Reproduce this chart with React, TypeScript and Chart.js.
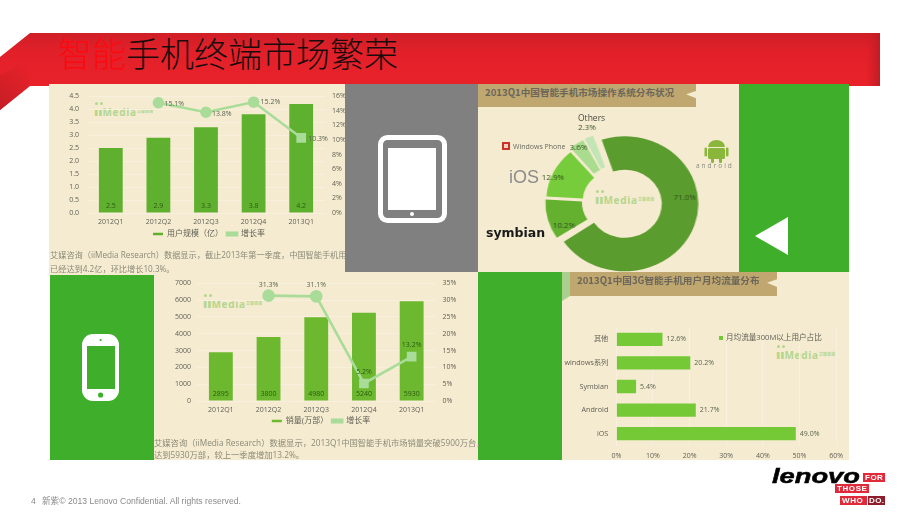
import React, { useEffect, useRef } from "react";
import { Chart, registerables } from "chart.js";

Chart.register(...registerables);

const quarters = ["2012Q1", "2012Q2", "2012Q3", "2012Q4", "2013Q1"];
const userScale = [2.5, 2.9, 3.3, 3.8, 4.2];
const userGrowth = [null, 15.1, 13.8, 15.2, 10.3];
const salesVolume = [2895, 3800, 4980, 5240, 5930];
const salesGrowth = [null, 31.3, 31.1, 5.2, 13.2];
const osNames = ["Android", "Symbian", "iOS", "Windows Phone", "Others"];
const osShare = [71.0, 10.2, 12.9, 3.6, 2.3];
const trafficCategories = ["其他", "windows系列", "Symbian", "Android", "iOS"];
const trafficShare = [12.6, 20.2, 5.4, 21.7, 49.0];

const FONT = '"Open Sans","Noto Sans CJK SC",sans-serif';
const TICK = "#5f5f55";
const PANEL = "#f5ebd0";
const GREEN = "#3fae2a";
const LINE = "#a9dc98";
const GRID = "#f8f0dc";
const DONUT_STRETCH = 1.09;

const fixW = (w: number) => (s: any) => {
  s.width = w;
};
const fixH = (h: number) => (s: any) => {
  s.height = h;
};

const comboLabels = (barFmt: (v: number) => string, barColor: string, lineOffsets: number[][], lineColors: string[], barGap: number) => ({
  id: "comboLabels",
  afterDatasetsDraw(chart: any) {
    const { ctx } = chart;
    ctx.save();
    ctx.font = `7px ${FONT}`;
    ctx.textBaseline = "middle";
    ctx.textAlign = "center";
    ctx.fillStyle = barColor;
    chart.getDatasetMeta(0).data.forEach((el: any, i: number) => {
      ctx.fillText(barFmt(chart.data.datasets[0].data[i]), el.x, chart.scales.y.bottom - barGap);
    });
    chart.getDatasetMeta(1).data.forEach((el: any, i: number) => {
      const v = chart.data.datasets[1].data[i];
      if (v == null) return;
      const [dx, dy, anchor] = lineOffsets[i];
      ctx.textAlign = anchor ? "left" : "center";
      ctx.fillStyle = lineColors[i];
      ctx.fillText(v.toFixed(1) + "%", el.x + dx, el.y + dy);
    });
    ctx.restore();
  },
});

function comboConfig(o: any) {
  return {
    type: "bar",
    data: {
      labels: quarters,
      datasets: [
        { type: "bar", label: o.barLabel, data: o.bars, yAxisID: "y", backgroundColor: o.barColor, barPercentage: 0.5, categoryPercentage: 1, order: 2 },
        {
          type: "line",
          label: "增长率",
          data: o.line,
          yAxisID: "y1",
          borderColor: LINE,
          backgroundColor: LINE,
          borderWidth: 2.6,
          tension: 0,
          spanGaps: false,
          pointStyle: ["circle", "circle", "circle", o.lastCircle ? "circle" : "rect", "rect"],
          pointRadius: o.pointRadius,
          pointBackgroundColor: LINE,
          pointBorderColor: LINE,
          order: 1,
        },
      ],
    },
    options: {
      animation: false,
      responsive: false,
      layout: { padding: o.padding },
      plugins: {
        tooltip: { enabled: false },
        legend: {
          position: "bottom",
          labels: {
            font: { size: 8, family: FONT },
            color: TICK,
            boxWidth: 10,
            boxHeight: 2.5,
            padding: 4,
            sort: (a: any, b: any) => a.datasetIndex - b.datasetIndex,
          },
        },
      },
      scales: {
        x: {
          grid: { display: false, drawTicks: false },
          border: { display: false },
          ticks: { font: { size: 7, family: FONT }, color: TICK, padding: 5, maxRotation: 0 },
          afterFit: fixH(o.xHeight),
        },
        y: {
          min: 0,
          max: o.yMax,
          position: "left",
          grid: { color: GRID, lineWidth: 1, drawTicks: false },
          border: { display: false },
          ticks: { stepSize: o.yStep, font: { size: 7, family: FONT }, color: TICK, padding: o.leftPad, callback: o.yFmt },
          afterFit: fixW(o.leftW),
        },
        y1: {
          min: 0,
          max: o.y1Max,
          position: "right",
          grid: { display: false, drawTicks: false },
          border: { display: false },
          ticks: { stepSize: o.y1Step, font: { size: 7, family: FONT }, color: TICK, padding: o.rightPad, callback: (v: number) => v + "%" },
          afterFit: fixW(o.rightW),
        },
      },
    },
    plugins: [comboLabels(o.barFmt, o.barTextColor, o.lineOffsets, o.lineColors, o.barGap)],
  };
}

const usersConfig = () =>
  comboConfig({
    barLabel: "用户规模（亿）",
    bars: userScale,
    line: userGrowth,
    barColor: "#60b02f",
    pointRadius: [0, 4.5, 4.5, 4.5, 5],
    lastCircle: true,
    padding: { left: 18, top: 9, right: 0, bottom: 0 },
    xHeight: 13,
    yMax: 4.5,
    yStep: 0.5,
    yFmt: (v: number) => v.toFixed(1),
    leftW: 20,
    leftPad: 8,
    y1Max: 16,
    y1Step: 2,
    rightPad: 7,
    rightW: 26,
    barFmt: (v: number) => v.toFixed(1),
    barTextColor: "#2c5a12",
    barGap: 7.5,
    lineOffsets: [[0, 0, 0], [6, 1, 1], [6, 2, 1], [7, 0, 1], [7, 1, 1]],
    lineColors: ["#555", "#5a6450", "#5a6450", "#5a6450", "#5a6450"],
  });

const salesConfig = () =>
  comboConfig({
    barLabel: "销量(万部）",
    bars: salesVolume,
    line: salesGrowth,
    barColor: "#6cb82f",
    pointRadius: [0, 5, 5, 5, 5],
    lastCircle: false,
    padding: { left: 10, top: 6, right: 0, bottom: 0 },
    xHeight: 12,
    yMax: 7000,
    yStep: 1000,
    yFmt: (v: number) => String(v),
    leftW: 33,
    leftPad: 6,
    y1Max: 35,
    y1Step: 5,
    rightPad: 7,
    rightW: 42.5,
    barFmt: (v: number) => String(v),
    barTextColor: "#2c5a12",
    barGap: 7.5,
    lineOffsets: [[0, 0, 0], [0, -11, 0], [0, -11, 0], [0, -11, 0], [0, -12, 0]],
    lineColors: ["#555", "#5a6450", "#5a6450", "#2c5a12", "#2c5a12"],
  });

const trafficConfig = () => ({
  type: "bar",
  data: {
    labels: trafficCategories,
    datasets: [{ label: "月均流量300M以上用户占比", data: trafficShare, backgroundColor: "#76c936", barPercentage: 0.565, categoryPercentage: 1 }],
  },
  options: {
    indexAxis: "y",
    animation: false,
    responsive: false,
    layout: { padding: { left: 0, top: 55.5, right: 9.7, bottom: 0 } },
    plugins: { legend: { display: false }, tooltip: { enabled: false } },
    scales: {
      x: {
        min: 0,
        max: 60,
        grid: { color: "#f8f0dc", drawTicks: false },
        border: { display: false },
        ticks: { stepSize: 10, font: { size: 7, family: FONT }, color: TICK, padding: 6, callback: (v: number) => v + "%" },
        afterFit: fixH(14.5),
      },
      y: {
        grid: { display: false, drawTicks: false },
        border: { display: false },
        ticks: { font: { size: 7.2, family: FONT }, color: TICK, padding: 8 },
        afterFit: fixW(54.3),
      },
    },
  },
  plugins: [
    {
      id: "barValues",
      afterDatasetsDraw(chart: any) {
        const { ctx } = chart;
        ctx.save();
        ctx.font = `7px ${FONT}`;
        ctx.fillStyle = "#5a6450";
        ctx.textBaseline = "middle";
        chart.getDatasetMeta(0).data.forEach((el: any, i: number) => {
          ctx.fillText(chart.data.datasets[0].data[i].toFixed(1) + "%", el.x + 4, el.y);
        });
        ctx.restore();
      },
    },
  ],
});

const donutLabelShift = [
  [7, -22.7],
  [1, 10],
  [-13, 0],
  [-7, -9],
  [-8, -24],
];

const donutConfig = () => ({
  type: "doughnut",
  data: {
    labels: osNames,
    datasets: [
      {
        data: osShare,
        backgroundColor: ["#5b9c2e", "#64b02f", "#76cc3a", "#a9dc8e", "#c3e4b4"],
        borderWidth: 0,
        offset: [22, 16, 16, 18, 18],
      },
    ],
  },
  options: {
    animation: false,
    responsive: false,
    rotation: -19,
    cutout: "46%",
    radius: 62,
    plugins: { legend: { display: false }, tooltip: { enabled: false } },
  },
  plugins: [
    {
      id: "donutValues",
      afterDatasetsDraw(chart: any) {
        const { ctx } = chart;
        ctx.save();
        ctx.fillStyle = "#33501f";
        ctx.font = `8px ${FONT}`;
        ctx.textAlign = "center";
        ctx.textBaseline = "middle";
        chart.getDatasetMeta(0).data.forEach((el: any, i: number) => {
          const p = el.getCenterPoint();
          ctx.save();
          ctx.translate(p.x + donutLabelShift[i][0], p.y + donutLabelShift[i][1]);
          ctx.scale(1 / DONUT_STRETCH, 1);
          ctx.fillText(chart.data.datasets[0].data[i].toFixed(1) + "%", 0, 0);
          ctx.restore();
        });
        ctx.restore();
      },
    },
  ],
});

function ChartBox({ make, left, top, width, height, style }: any) {
  const ref = useRef<HTMLCanvasElement>(null);
  useEffect(() => {
    const chart = new Chart(ref.current as any, make() as any);
    return () => chart.destroy();
  }, []);
  return <canvas ref={ref} width={width} height={height} style={{ position: "absolute", left, top, width, height, ...style }} />;
}

const Box = ({ x, y, w, h, c }: any) => <div style={{ position: "absolute", left: x, top: y, width: w, height: h, background: c }} />;

const Txt = ({ x, y, size, color, children, weight, family, spacing }: any) => (
  <div
    style={{
      position: "absolute",
      left: x,
      top: y,
      fontSize: size,
      lineHeight: 1,
      color,
      fontWeight: weight || 400,
      fontFamily: family || FONT,
      letterSpacing: spacing || 0,
      whiteSpace: "nowrap",
      transform: "translateY(-50%)",
    }}
  >
    {children}
  </div>
);

const Logo = ({ x, y }: any) => (
  <div style={{ position: "absolute", left: x, top: y, width: 60, height: 16, color: "#b4d68e", fontFamily: FONT, whiteSpace: "nowrap" }}>
    <span style={{ position: "absolute", left: 1, top: 0, width: 3, height: 3, borderRadius: 2, background: "#b4d68e" }} />
    <span style={{ position: "absolute", left: 6, top: 0, width: 3, height: 3, borderRadius: 2, background: "#b4d68e" }} />
    <span style={{ position: "absolute", left: 0, top: 3, fontSize: 13, lineHeight: "13px", fontWeight: 800 }}>
      ıı<span style={{ fontSize: 10, letterSpacing: 0.7, fontWeight: 700 }}>Media</span>
    </span>
    <span style={{ position: "absolute", left: 43, top: 7, fontSize: 4, lineHeight: "5px", fontWeight: 700, fontFamily: '"Noto Sans CJK SC"' }}>艾媒咨询</span>
  </div>
);

const notch = (w: number, h: number) =>
  `polygon(0 0, ${w}px 0, ${w}px ${h * 0.3}px, ${w - 10}px ${h * 0.45}px, ${w}px ${h * 0.62}px, ${w}px ${h}px, 0 ${h}px)`;

const Shapes = () => (
  <svg width={920} height={518} style={{ position: "absolute", left: 0, top: 0 }}>
    <defs>
      <linearGradient id="bn" gradientUnits="userSpaceOnUse" x1="0" y1="33" x2="0" y2="86">
        <stop offset="0" stopColor="#cf1f27" />
        <stop offset="0.35" stopColor="#e2202a" />
        <stop offset="1" stopColor="#e92229" />
      </linearGradient>
      <linearGradient id="bl" gradientUnits="userSpaceOnUse" x1="30" y1="70" x2="0" y2="108">
        <stop offset="0" stopColor="#c51d25" stopOpacity="0" />
        <stop offset="1" stopColor="#c51d25" />
      </linearGradient>
      <linearGradient id="br" x1="0" y1="0" x2="1" y2="0">
        <stop offset="0" stopColor="#c81d25" stopOpacity="0" />
        <stop offset="1" stopColor="#c01c24" />
      </linearGradient>
    </defs>
    <polygon points="30,33 880,33 880,86 30,86 0,110 0,57" fill="url(#bn)" />
    <polygon points="30,60 30,86 0,110 0,75" fill="url(#bl)" />
    <rect x={866} y={33} width={14} height={53} fill="url(#br)" />
  </svg>
);

const Icons = () => (
  <svg width={920} height={518} style={{ position: "absolute", left: 0, top: 0 }}>
    {/* tablet */}
    <rect x={380.5} y={137.5} width={64} height={83} rx={7} fill="none" stroke="#fff" strokeWidth={5} />
    <rect x={388} y={148} width={48} height={62} fill="#fff" />
    <circle cx={412} cy={214} r={2} fill="#fff" />
    {/* phone */}
    <rect x={82} y={334} width={37} height={67} rx={11} fill="#fff" />
    <rect x={87} y={346} width={28} height={43} fill={GREEN} />
    <circle cx={100.6} cy={340} r={1.1} fill={GREEN} />
    <circle cx={100.6} cy={395} r={2.6} fill={GREEN} />
    {/* triangle */}
    <polygon points="755,236 788,217 788,255" fill="#fff" />
    {/* android */}
    <g fill="#8ab63c">
      <path d="M708,147 a8.5,7 0 0 1 17,0 z" />
      <rect x={708} y={148} width={17} height={11} rx={1.5} />
      <rect x={704.5} y={147.5} width={2.6} height={9} rx={1.3} />
      <rect x={725.9} y={147.5} width={2.6} height={9} rx={1.3} />
      <rect x={711} y={158} width={3} height={5} rx={1.2} />
      <rect x={719} y={158} width={3} height={5} rx={1.2} />
    </g>
    {/* windows phone icon */}
    <rect x={502} y={142} width={8} height={8} fill="#c9342a" />
    <rect x={504} y={144} width={4} height={4} fill="#f3d0c0" />
    {/* strip accent */}
    <polygon points="562,272 570,272 570,296 562,301" fill="#a9d08c" />
  </svg>
);

export default function App() {
  return (
    <div style={{ position: "absolute", left: 0, top: 0, width: 920, height: 518, background: "#fff", overflow: "hidden", filter: "blur(0.35px)" }}>
      <Shapes />
      <div style={{ position: "absolute", left: 58, top: 53, fontSize: 34, lineHeight: 1, fontFamily: '"Noto Sans CJK SC"', fontWeight: 300, transform: "translateY(-50%)", whiteSpace: "nowrap" }}>
        <span style={{ color: "#fb0a0f" }}>智能</span>
        <span style={{ color: "#1a0c0c" }}>手机终端市场繁荣</span>
      </div>

      {/* panels */}
      <Box x={49} y={84} w={296} h={191} c={PANEL} />
      <Box x={478} y={84} w={261} h={188} c={PANEL} />
      <Box x={154} y={272} w={324} h={188} c={PANEL} />
      <Box x={562} y={272} w={287} h={188} c={PANEL} />
      <Box x={739} y={84} w={110} h={188} c={GREEN} />
      <Box x={50} y={275} w={104} h={185} c={GREEN} />
      <Box x={478} y={272} w={84} h={188} c={GREEN} />

      <Logo x={94} y={102} />
      <Logo x={203} y={294} />
      <Logo x={595} y={190} />
      <Logo x={776} y={345} />

      {/* chart 1 */}
      <ChartBox make={usersConfig} left={49} top={84} width={302} height={164} />
      <div style={{ position: "absolute", left: 50, top: 0, width: 295, height: 518, overflow: "hidden" }}>
        <Txt x={0} y={255} size={8.2} color="#8b8a78">艾媒咨询（iiMedia Research）数据显示，截止2013年第一季度，中国智能手机用户规模</Txt>
        <Txt x={0} y={269} size={8.2} color="#8b8a78">已经达到4.2亿，环比增长10.3%。</Txt>
      </div>
      <Box x={345} y={84} w={133} h={188} c="#808080" />

      {/* chart 2 */}
      <ChartBox make={salesConfig} left={154} top={272} width={324} height={163.3} />
      <Txt x={154} y={443} size={8.3} color="#8b8a78">艾媒咨询（iiMedia Research）数据显示，2013Q1中国智能手机市场销量突破5900万台，</Txt>
      <Txt x={154} y={455} size={8.3} color="#8b8a78">达到5930万部，较上一季度增加13.2%。</Txt>

      {/* donut */}
      <div style={{ position: "absolute", left: 478, top: 84, width: 218, height: 23, background: "#bfa76f", clipPath: notch(218, 23) }} />
      <Txt x={485} y={93} size={9.6} weight={700} color="#6b6659" family='"Noto Sans CJK SC"'>2013Q1中国智能手机市场操作系统分布状况</Txt>
      <ChartBox make={donutConfig} left={538.7} top={121.7} width={160} height={160} style={{ transform: `scaleX(${DONUT_STRETCH})` }} />
      <Txt x={578} y={118} size={8.5} color="#4a4a40">Others</Txt>
      <Txt x={513} y={146} size={7} color="#6a6a60">Windows Phone</Txt>
      <Txt x={509} y={177} size={18} color="#8c8c8c" family='"Liberation Sans"'>iOS</Txt>
      <Txt x={486} y={233} size={12.5} weight={700} color="#1a1a1a" family='"DejaVu Sans"'>symbian</Txt>
      <Txt x={696} y={166} size={6.5} color="#8a8a80" spacing={2}>android</Txt>

      {/* traffic */}
      <div style={{ position: "absolute", left: 570, top: 272, width: 207, height: 24, background: "#bfa76f", clipPath: notch(207, 24) }} />
      <Txt x={577} y={281} size={9.6} weight={700} color="#6b6659" family='"Noto Sans CJK SC"'>2013Q1中国3G智能手机用户月均流量分布</Txt>
      <ChartBox make={trafficConfig} left={562} top={272} width={287} height={188} />
      <Box x={719} y={336} w={4} h={4} c="#76c936" />
      <Txt x={726} y={338} size={7.6} color="#5f5f55">月均流量300M以上用户占比</Txt>

      <Icons />

      {/* footer */}
      <Txt x={31} y={501} size={8.6} color="#8a8a8a" family='"Liberation Sans","Noto Sans CJK SC"'>4</Txt>
      <Txt x={42} y={501} size={8.6} color="#8a8a8a" family='"Liberation Sans","Noto Sans CJK SC"'>新紫© 2013 Lenovo Confidential. All rights reserved.</Txt>

      {/* lenovo */}
      <div style={{ position: "absolute", left: 772, top: 465, fontSize: 21, lineHeight: "21px", fontWeight: 700, fontStyle: "italic", color: "#000", fontFamily: '"Liberation Sans"', transform: "scaleX(1.3)", transformOrigin: "left center", WebkitTextStroke: "0.5px #000" }}>lenovo</div>
      <Box x={863} y={473} w={22} h={9} c="#e02a3a" />
      <Box x={835} y={484} w={34} h={9} c="#e02a3a" />
      <Box x={840} y={496} w={27} h={9} c="#e02a3a" />
      <Box x={867.5} y={496} w={17.5} h={9} c="#8e1f2a" />
      <Txt x={865} y={478} size={8} weight={700} color="#fff" family='"Liberation Sans"' spacing={0.5}>FOR</Txt>
      <Txt x={837} y={489} size={8} weight={700} color="#fff" family='"Liberation Sans"' spacing={0.6}>THOSE</Txt>
      <Txt x={842} y={501} size={8} weight={700} color="#fff" family='"Liberation Sans"' spacing={0.6}>WHO</Txt>
      <Txt x={869} y={501} size={8} weight={700} color="#fff" family='"Liberation Sans"' spacing={0.4}>DO.</Txt>
    </div>
  );
}
